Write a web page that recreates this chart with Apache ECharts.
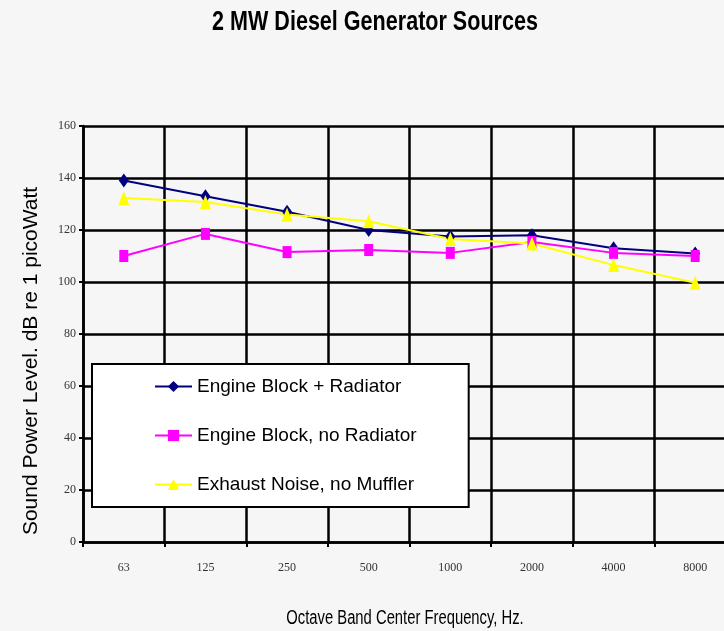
<!DOCTYPE html>
<html>
<head>
<meta charset="utf-8">
<script src="https://cdn.jsdelivr.net/npm/echarts@6/dist/echarts.min.js"></script>
<style>
  html, body { margin: 0; padding: 0; background: #f6f6f6; }
  #chart { width: 724px; height: 631px; }
</style>
</head>
<body>
<div id="chart"></div>
<script>
// octave band centres (Hz)
const bands = ['63', '125', '250', '500', '1000', '2000', '4000', '8000'];

// sound power, dB re 1 pW
const engineRadiator = [139, 133, 127, 120, 117.5, 118, 113, 111];
const engineNoRadiator = [110, 118.5, 111.5, 112.3, 111.2, 115.4, 111.2, 110];
const exhaustNoMuffler = [132.3, 130.8, 126, 123.4, 116.5, 114.8, 106.5, 99.7];

const seriesNames = ['Engine Block + Radiator', 'Engine Block, no Radiator', 'Exhaust Noise, no Muffler'];

const sans = "'Liberation Sans', Arial, sans-serif";
const serif = "'Liberation Serif', 'Times New Roman', serif";

const chart = echarts.init(document.getElementById('chart'));

const option = {
  backgroundColor: '#f6f6f6',
  animation: false,
  grid: {
    left: 83,
    width: 653,
    top: 126,
    bottom: 89,
    outerBoundsMode: 'none'
  },
  legend: {
    orient: 'vertical',
    left: 92,
    top: 364,
    backgroundColor: '#fff',
    borderColor: '#000',
    borderWidth: 2,
    padding: [13, 52, 13, 62],
    itemWidth: 37,
    itemHeight: 14,
    itemGap: 30,
    textStyle: { fontFamily: sans, fontSize: 19, color: '#000' },
    data: seriesNames
  },
  // title and axis names are squeezed horizontally (narrow face in the original)
  graphic: [
    {
      type: 'text',
      x: 375,
      y: 22,
      scaleX: 0.77,
      style: {
        text: '2 MW Diesel Generator Sources',
        fontFamily: sans,
        fontWeight: 'bold',
        fontSize: 28,
        fill: '#000',
        align: 'center',
        verticalAlign: 'middle'
      }
    },
    {
      type: 'text',
      x: 405,
      y: 618,
      scaleX: 0.74,
      style: {
        text: 'Octave Band Center Frequency, Hz.',
        fontFamily: sans,
        fontSize: 20,
        fill: '#000',
        align: 'center',
        verticalAlign: 'middle'
      }
    },
    {
      type: 'text',
      x: 31,
      y: 361,
      rotation: Math.PI / 2,
      style: {
        text: 'Sound Power Level. dB re 1 picoWatt',
        fontFamily: sans,
        fontSize: 21,
        fill: '#000',
        align: 'center',
        verticalAlign: 'middle'
      }
    }
  ],
  xAxis: {
    type: 'category',
    data: bands,
    boundaryGap: true,
    axisLine: { lineStyle: { color: '#000', width: 2.5 } },
    axisTick: { show: true, length: 5, interval: 0, lineStyle: { color: '#000', width: 2 } },
    axisLabel: { fontFamily: serif, fontSize: 12, color: '#333', margin: 20, interval: 0 },
    splitLine: { show: true, interval: 0, lineStyle: { color: '#000', width: 2.5 } }
  },
  yAxis: {
    type: 'value',
    min: 0,
    max: 160,
    interval: 20,
    axisLine: { show: true, lineStyle: { color: '#000', width: 2.5 } },
    axisTick: { show: true, length: 4, lineStyle: { color: '#000', width: 2 } },
    axisLabel: { fontFamily: serif, fontSize: 12, color: '#333', margin: 7 },
    splitLine: { show: true, lineStyle: { color: '#000', width: 2.5 } }
  },
  series: [
    {
      name: seriesNames[0],
      type: 'line',
      data: engineRadiator,
      symbol: 'diamond',
      symbolSize: [10, 14],
      color: '#000080',
      lineStyle: { width: 2, color: '#000080' }
    },
    {
      name: seriesNames[1],
      type: 'line',
      data: engineNoRadiator,
      symbol: 'rect',
      symbolSize: [9, 12],
      color: '#ff00ff',
      lineStyle: { width: 2, color: '#ff00ff' }
    },
    {
      name: seriesNames[2],
      type: 'line',
      data: exhaustNoMuffler,
      symbol: 'triangle',
      symbolSize: [11, 14],
      color: '#ffff00',
      lineStyle: { width: 2, color: '#ffff00' }
    }
  ]
};

chart.setOption(option);
</script>
</body>
</html>
